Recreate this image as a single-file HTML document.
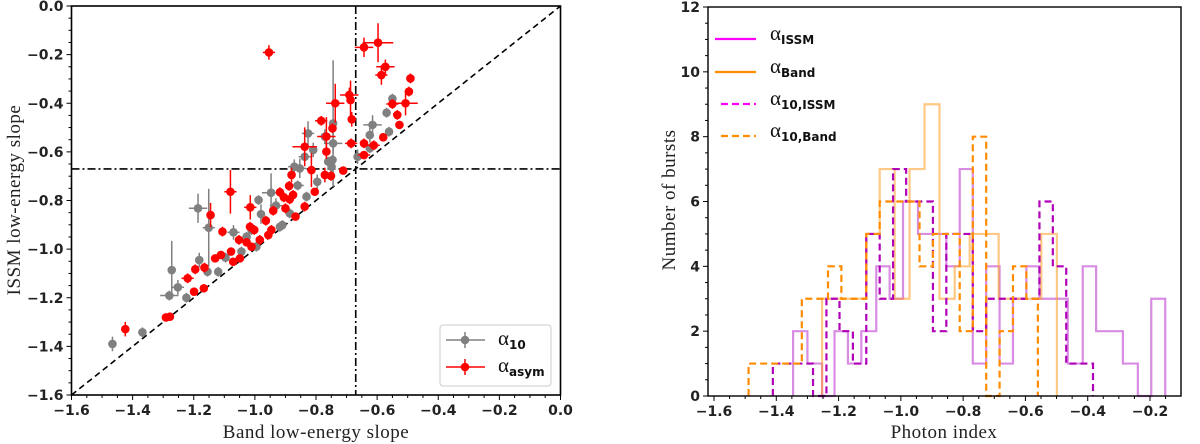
<!DOCTYPE html>
<html><head><meta charset="utf-8">
<style>
html,body{margin:0;padding:0;background:#fff;}
svg{display:block;}
.tick{font-family:"DejaVu Sans","Liberation Sans",sans-serif;font-weight:bold;font-size:14px;fill:#222;}
.title{font-family:"Liberation Serif","DejaVu Serif",serif;font-weight:normal;font-size:19px;fill:#222;letter-spacing:0.5px;}
.leg{font-family:"Liberation Serif",serif;font-size:21px;fill:#111;}
.sub{font-family:"DejaVu Sans",sans-serif;font-weight:bold;font-size:12px;}
</style></head>
<body>
<svg id="fig" width="1200" height="444" viewBox="0 0 1200 444" xmlns="http://www.w3.org/2000/svg">
<g id="left"></g>
<g id="right"></g>
</svg>
<script>
// ---------- scatter data ----------
const grayX = [-1.466,-1.368,-1.280,-1.272,-1.252,-1.224,-1.182,-1.186,-1.151,-1.155,-1.120,-1.096,-1.070,-1.044,-1.027,-1.011,-0.995,-0.988,-0.980,-0.947,-0.931,-0.918,-0.910,-0.886,-0.871,-0.860,-0.853,-0.831,-0.826,-0.837,-0.809,-0.796,-0.771,-0.760,-0.744,-0.744,-0.746,-0.749,-0.664,-0.615,-0.624,-0.624,-0.569,-0.550,-0.561];
const grayY = [-1.390,-1.342,-1.191,-1.086,-1.157,-1.200,-1.045,-0.832,-0.912,-1.093,-1.093,-1.035,-0.931,-1.010,-0.949,-0.921,-0.990,-0.798,-0.856,-0.768,-0.821,-0.908,-0.901,-0.853,-0.661,-0.738,-0.668,-0.784,-0.524,-0.620,-0.592,-0.723,-0.537,-0.640,-0.565,-0.483,-0.633,-0.661,-0.620,-0.489,-0.531,-0.585,-0.439,-0.381,-0.517];
const grayYerr = [0.03,0.02,0.02,0.12,0.03,0.02,0.03,0.06,0.16,0.02,0.02,0.02,0.03,0.02,0.02,0.02,0.02,0.02,0.04,0.08,0.03,0.02,0.02,0.02,0.03,0.02,0.04,0.02,0.05,0.02,0.03,0.03,0.03,0.02,0.04,0.26,0.02,0.03,0.03,0.04,0.03,0.02,0.02,0.02,0.02];
const grayXerr = [0,0,0.03,0,0.02,0,0,0.03,0.02,0,0,0,0.02,0,0,0,0,0,0,0.03,0.02,0,0,0,0.02,0.02,0.02,0,0.02,0.02,0,0,0,0,0.03,0,0,0,0,0.03,0,0,0,0,0];
const redX = [-1.424,-1.291,-1.278,-1.220,-1.199,-1.195,-1.167,-1.165,-1.145,-1.130,-1.111,-1.106,-1.078,-1.080,-1.071,-1.049,-1.052,-1.027,-1.011,-1.015,-1.016,-1.002,-0.984,-0.964,-0.956,-0.946,-0.940,-0.918,-0.905,-0.900,-0.886,-0.875,-0.888,-0.880,-0.867,-0.837,-0.815,-0.837,-0.804,-0.783,-0.771,-0.766,-0.766,-0.751,-0.746,-0.737,-0.711,-0.691,-0.687,-0.683,-0.685,-0.643,-0.643,-0.643,-0.597,-0.586,-0.580,-0.573,-0.611,-0.550,-0.534,-0.527,-0.507,-0.496,-0.491,-0.954];
const redY = [-1.329,-1.281,-1.278,-1.120,-1.175,-1.083,-1.161,-1.076,-0.860,-1.038,-1.024,-0.928,-1.010,-0.764,-1.052,-1.038,-0.962,-0.972,-0.990,-0.828,-0.908,-0.921,-0.962,-0.883,-0.942,-0.921,-0.842,-0.766,-0.787,-0.832,-0.795,-0.777,-0.740,-0.695,-0.866,-0.825,-0.675,-0.579,-0.764,-0.472,-0.695,-0.599,-0.537,-0.699,-0.503,-0.400,-0.677,-0.366,-0.387,-0.466,-0.565,-0.613,-0.565,-0.170,-0.151,-0.284,-0.540,-0.250,-0.573,-0.403,-0.448,-0.489,-0.400,-0.352,-0.298,-0.191];
const redYerr = [0.03,0.01,0.01,0.02,0.01,0.02,0.01,0.02,0.05,0.01,0.01,0.02,0.01,0.09,0.01,0.01,0.02,0.01,0.01,0.05,0.02,0.02,0.02,0.02,0.01,0.02,0.02,0.02,0.02,0.02,0.02,0.02,0.02,0.03,0.01,0.02,0.07,0.08,0.01,0.02,0.03,0.03,0.08,0.02,0.02,0.08,0.01,0.03,0.08,0.03,0.02,0.01,0.02,0.04,0.08,0.04,0.01,0.03,0.02,0.02,0.02,0.01,0.05,0.02,0.02,0.03];
const redXerr = [0,0,0,0.02,0,0,0,0,0,0,0,0,0,0.02,0,0,0,0,0,0.02,0,0,0,0,0,0,0,0,0,0,0,0,0,0,0,0,0,0.04,0,0.02,0.01,0,0.03,0,0,0.03,0,0.03,0,0,0.02,0.02,0,0.03,0.05,0.02,0,0.03,0.02,0.02,0,0,0.04,0,0,0.02];
const scTicks = [-1.6,-1.4,-1.2,-1.0,-0.8,-0.6,-0.4,-0.2,0.0];
const refLine = -0.67;

// ---------- histogram data ----------
const issmEdges = [-1.346,-1.300,-1.253,-1.213,-1.170,-1.127,-1.079,-1.036,-0.993,-0.945,-0.854,-0.811,-0.769,-0.726,-0.683,-0.640,-0.597,-0.555,-0.464,-0.416,-0.373,-0.287,-0.239,-0.196,-0.151];
const issmCounts = [2,1,0,2,1,2,4,3,6,5,4,7,1,4,1,3,4,3,1,4,2,1,0,3];
const bandEdges = [-1.253,-1.111,-1.068,-1.020,-0.972,-0.924,-0.876,-0.827,-0.779,-0.686,-0.549,-0.499];
const bandCounts = [3,5,7,3,7,9,3,4,5,3,5];
const issm10Edges = [-1.411,-1.282,-1.239,-1.197,-1.154,-1.111,-1.068,-1.025,-0.983,-0.897,-0.854,-0.769,-0.726,-0.555,-0.512,-0.469,-0.383];
const issm10Counts = [1,0,3,2,1,5,3,7,6,2,5,2,3,6,4,1];
const band10Edges = [-1.489,-1.318,-1.234,-1.191,-1.111,-1.068,-0.940,-0.897,-0.811,-0.769,-0.726,-0.683,-0.640,-0.597,-0.560];
const band10Counts = [1,3,4,3,5,6,4,5,2,8,0,2,4,3];
const hxTicks = [-1.6,-1.4,-1.2,-1.0,-0.8,-0.6,-0.4,-0.2];
const hyTicks = [0,2,4,6,8,10,12];

const NS="http://www.w3.org/2000/svg";
function mk(parent,tag,attrs,text){const e=document.createElementNS(NS,tag);for(const k in attrs)e.setAttribute(k,attrs[k]);if(text!==undefined)e.textContent=text;parent.appendChild(e);return e;}
function fmt(v){return (v<0?"\u2212":"")+Math.abs(v).toFixed(1);}

// ---------- left scatter ----------
const L=document.getElementById('left');
const lx0=71.5,lx1=560.5,ly0=6,ly1=395;
const sx=v=>lx0+(v+1.6)/1.6*(lx1-lx0);
const sy=v=>ly0+(-v)/1.6*(ly1-ly0);
let e=mk(L,'line',{x1:sx(-1.6),y1:sy(-1.6),x2:sx(0),y2:sy(0),stroke:'#000','stroke-width':1.6,'stroke-dasharray':'6,4'});

e=mk(L,'line',{x1:sx(refLine),y1:ly0,x2:sx(refLine),y2:ly1,stroke:'#000','stroke-width':1.6,'stroke-dasharray':'8,3,2,3'});

e=mk(L,'line',{x1:lx0,y1:sy(refLine),x2:lx1,y2:sy(refLine),stroke:'#000','stroke-width':1.6,'stroke-dasharray':'8,3,2,3'});

function drawPts(xs,ys,xe,ye,col,name){
  for(let i=0;i<xs.length;i++){
    const g=mk(L,'g',{});
    
    
    mk(g,'line',{x1:sx(xs[i]),x2:sx(xs[i]),y1:sy(ys[i]+ye[i]),y2:sy(ys[i]-ye[i]),stroke:col,'stroke-width':1.5});
    if(xe[i]>0)mk(g,'line',{x1:sx(xs[i]-xe[i]),x2:sx(xs[i]+xe[i]),y1:sy(ys[i]),y2:sy(ys[i]),stroke:col,'stroke-width':1.5});
    mk(g,'circle',{cx:sx(xs[i]),cy:sy(ys[i]),r:4.3,fill:col});
  }
}
drawPts(grayX,grayY,grayXerr,grayYerr,'#808080','alpha10');
drawPts(redX,redY,redXerr,redYerr,'#ff0000','alpha-asym');
e=mk(L,'rect',{x:lx0,y:ly0,width:lx1-lx0,height:ly1-ly0,fill:'none',stroke:'#000','stroke-width':1.6});

for(let k=0;k<=32;k++){const v=-1.6+k*0.05;const maj=k%4===0;
  mk(L,'line',{x1:sx(v),x2:sx(v),y1:ly1,y2:ly1+(maj?5:3),stroke:'#000','stroke-width':1});
  mk(L,'line',{x1:lx0,x2:lx0-(maj?5:3),y1:sy(v),y2:sy(v),stroke:'#000','stroke-width':1});}
scTicks.forEach(v=>{
  e=mk(L,'text',{x:sx(v),y:ly1+20,'text-anchor':'middle',class:'tick'},fmt(v));
  
  e=mk(L,'text',{x:lx0-8,y:sy(v)+5,'text-anchor':'end',class:'tick'},fmt(v));
  
});
e=mk(L,'text',{x:316,y:438,'text-anchor':'middle',class:'title'},'Band low-energy slope');

e=mk(L,'text',{x:0,y:0,'text-anchor':'middle',class:'title',transform:'translate(20,200) rotate(-90)'},'ISSM low-energy slope');

const lg=mk(L,'g',{});

mk(lg,'rect',{x:440,y:325,width:111,height:61,rx:3,fill:'#fff',stroke:'#ccc','stroke-width':1});
[['#808080','10',340],['#ff0000','asym',367]].forEach(([c,s,y])=>{
  mk(lg,'line',{x1:446,x2:485,y1:y,y2:y,stroke:c,'stroke-width':1.5});
  mk(lg,'line',{x1:465,x2:465,y1:y-8,y2:y+8,stroke:c,'stroke-width':1.5});
  mk(lg,'circle',{cx:465,cy:y,r:4.3,fill:c});
  const t=mk(lg,'text',{x:498,y:y+5,class:'leg'});
  
  mk(t,'tspan',{},'\u03b1');mk(t,'tspan',{class:'sub',dy:4},s);
});

// ---------- right histogram ----------
const R=document.getElementById('right');
const rx0=708,rx1=1181,ry0=7,ry1=396;
const hx=v=>714+(v+1.6)/1.4*436;
const hy=v=>ry1-v/12*(ry1-ry0);
function step(edges,counts,col,op,dash,name){
  let d='M'+hx(edges[0])+','+hy(0);
  for(let i=0;i<counts.length;i++){d+=' V'+hy(counts[i])+' H'+hx(edges[i+1]);}
  d+=' V'+hy(0);
  const p=mk(R,'path',{d:d,fill:'none',stroke:col,'stroke-opacity':op,'stroke-width':2.2,'stroke-dasharray':dash});
  
  
}
step(issmEdges,issmCounts,'#c040d0',0.6,'none','hist-alpha-issm');
step(bandEdges,bandCounts,'#ff9a20',0.55,'none','hist-alpha-band');
step(issm10Edges,issm10Counts,'#b000b8',1,'7,4','hist-alpha10-issm');
step(band10Edges,band10Counts,'#ff8c00',1,'7,4','hist-alpha10-band');
e=mk(R,'rect',{x:rx0,y:ry0,width:rx1-rx0,height:ry1-ry0,fill:'none',stroke:'#000','stroke-width':1.4});

for(let k=0;k<=32;k++){const v=-1.6+k*0.05;if(hx(v)<rx0||hx(v)>rx1)continue;
  mk(R,'line',{x1:hx(v),x2:hx(v),y1:ry1,y2:ry1+(k%4===0?5:3),stroke:'#000','stroke-width':1});}
for(let k=0;k<=24;k++){const v=k*0.5;
  mk(R,'line',{x1:rx0,x2:rx0-(k%4===0?5:3),y1:hy(v),y2:hy(v),stroke:'#000','stroke-width':1});}
hxTicks.forEach(v=>{
  e=mk(R,'text',{x:hx(v),y:ry1+20,'text-anchor':'middle',class:'tick'},fmt(v));
  
});
hyTicks.forEach(v=>{
  e=mk(R,'text',{x:rx0-8,y:hy(v)+5,'text-anchor':'end',class:'tick'},String(v));
  
});
e=mk(R,'text',{x:944,y:438,'text-anchor':'middle',class:'title'},'Photon index');

e=mk(R,'text',{x:0,y:0,'text-anchor':'middle',class:'title',transform:'translate(675,200) rotate(-90)'},'Number of bursts');

const rg=mk(R,'g',{});

[['#ff00ff','none','ISSM',39,715],['#ff8c00','none','Band',72,715],['#ff00ff','7,4','10,ISSM',104,721],['#ff8c00','7,4','10,Band',136,721]].forEach(([c,da,s,y,x1])=>{
  mk(rg,'line',{x1:x1,x2:756,y1:y,y2:y,stroke:c,'stroke-width':2.2,'stroke-dasharray':da});
  const t=mk(rg,'text',{x:770,y:y+1,class:'leg'});
  
  mk(t,'tspan',{},'\u03b1');mk(t,'tspan',{class:'sub',dy:4},s);
});
</script>
</body></html>
